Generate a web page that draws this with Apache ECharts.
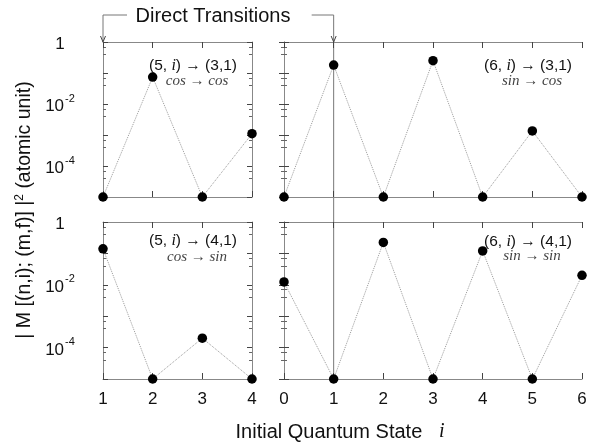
<!DOCTYPE html>
<html><head><meta charset="utf-8">
<script src="https://cdn.jsdelivr.net/npm/echarts@6/dist/echarts.min.js"></script>
<style>html,body{margin:0;padding:0;background:#fff}#c{width:603px;height:444px}</style>
</head><body><div id="c"></div>
<script>
// ---- data ----
const statesLeft = [1, 2, 3, 4];
const statesRight = [0, 1, 2, 3, 4, 5, 6];
const m5to31 = [1e-5, 0.074, 1e-5, 1.1e-3];
const m6to31 = [1e-5, 0.18, 1e-5, 0.25, 1e-5, 1.35e-3, 1e-5];
const m5to41 = [0.14, 1e-5, 2e-4, 1e-5];
const m6to41 = [0.0123, 1e-5, 0.224, 1e-5, 0.12, 1e-5, 0.02];
const yLabelExps = [0, -2, -4];
const panelTitles = ['(5, {i|i}) \u2192 (3,1)', '(6, {i|i}) \u2192 (3,1)', '(5, {i|i}) \u2192 (4,1)', '(6, {i|i}) \u2192 (4,1)'];
const panelSubs = ['cos \u2192 cos', 'sin \u2192 cos', 'cos \u2192 sin', 'sin \u2192 sin'];
const bracketLabel = 'Direct Transitions';
const xTitle = 'Initial Quantum State';
const yTitle = '| M [(n,i); (m,f)] |{s|2} (atomic unit)';

const FONT = '"Liberation Sans", Arial, sans-serif';
const SERIF = '"Liberation Serif", "Times New Roman", serif';
const chart = echarts.init(document.getElementById('c'));

const grids = [
  {left: 103, top: 42, width: 149, height: 155},
  {left: 284, top: 42, width: 298, height: 155},
  {left: 103, top: 222, width: 149, height: 157},
  {left: 284, top: 222, width: 298, height: 157}
];
const panels = [
  {xs: statesLeft, ys: m5to31, min: 1, max: 4, bottom: false, left: true},
  {xs: statesRight, ys: m6to31, min: 0, max: 6, bottom: false, left: false},
  {xs: statesLeft, ys: m5to41, min: 1, max: 4, bottom: true, left: true},
  {xs: statesRight, ys: m6to41, min: 0, max: 6, bottom: true, left: false}
];
const frameLine = {show: true, lineStyle: {color: '#888', width: 1}};
const tickStyle = {color: '#444', width: 1};

const xAxes = [], yAxes = [], series = [];
panels.forEach((p, i) => {
  ['bottom', 'top'].forEach(pos => {
    xAxes.push({
      gridIndex: i, type: 'value', min: p.min, max: p.max, interval: 1, position: pos,
      axisLine: frameLine,
      axisTick: {show: true, inside: true, length: 6, lineStyle: tickStyle},
      axisLabel: {show: p.bottom && pos === 'bottom', margin: 12, fontSize: 17, color: '#111', fontFamily: FONT},
      splitLine: {show: false}
    });
  });
  ['left', 'right'].forEach(pos => {
    yAxes.push({
      gridIndex: i, type: 'log', logBase: 10, min: 1e-5, max: 1, position: pos,
      axisLine: frameLine,
      axisTick: {show: true, inside: true, length: 5, lineStyle: tickStyle},
      minorTick: {show: true, splitNumber: 3, length: 3, lineStyle: {color: '#666'}},
      axisLabel: {
        show: p.left && pos === 'left', align: 'center', margin: 43, fontFamily: FONT,
        formatter: v => {
          const e = Math.round(Math.log10(v));
          if (!yLabelExps.includes(e)) return '';
          return e === 0 ? '{b|1}' : '{b|10}{s|' + e + '}';
        },
        rich: {
          b: {fontSize: 17, color: '#111', fontFamily: FONT, lineHeight: 22, verticalAlign: 'bottom'},
          s: {fontSize: 11, color: '#111', fontFamily: FONT, lineHeight: 22, verticalAlign: 'top', padding: [0, 0, 0, 1]}
        }
      },
      splitLine: {show: false}
    });
  });
  series.push({
    type: 'line', xAxisIndex: i * 2, yAxisIndex: i * 2,
    data: p.xs.map((x, k) => [x, p.ys[k]]),
    symbol: 'circle', symbolSize: 9.5, showSymbol: true, clip: false,
    itemStyle: {color: '#000'},
    lineStyle: {type: 'dotted', color: '#999', width: 1},
    z: 5, silent: true, animation: false
  });
});

chart.setOption({
  animation: false,
  grid: grids,
  xAxis: xAxes,
  yAxis: yAxes,
  series: series
});

// pixel positions derived from the axes
const xL1 = chart.convertToPixel({xAxisIndex: 0}, 1);
const xR1 = chart.convertToPixel({xAxisIndex: 2}, 1);
const yTop = chart.convertToPixel({yAxisIndex: 0}, 1);
const yBot = chart.convertToPixel({yAxisIndex: 4}, 1e-5);
const yBr = 15;
const gray = '#777';

const titleRich = {
  i: {fontFamily: SERIF, fontStyle: 'italic', fontSize: 16, fill: '#111'}
};
const ann = [
  {x: 193, y: 66, sy: 81},
  {x: 528, y: 66, sy: 81},
  {x: 193, y: 241, sy: 257},
  {x: 528, y: 242, sy: 256}
];
const graphics = [];
ann.forEach((a, i) => {
  graphics.push({type: 'text', x: a.x, y: a.y, style: {
    text: panelTitles[i], fontFamily: FONT, fontSize: 15.5, fill: '#111', align: 'center', verticalAlign: 'middle', rich: titleRich}});
  graphics.push({type: 'text', x: a.x + 4, y: a.sy, style: {
    text: panelSubs[i], fontFamily: SERIF, fontStyle: 'italic', fontSize: 15, fill: '#444', align: 'center', verticalAlign: 'middle'}});
});
// bracket
graphics.push({type: 'polyline', shape: {points: [[xL1 + 24, yBr], [xL1, yBr], [xL1, yTop]]}, style: {stroke: gray, lineWidth: 1, fill: null}});
graphics.push({type: 'polyline', shape: {points: [[xL1 - 2.5, yTop - 6], [xL1, yTop], [xL1 + 2.5, yTop - 6]]}, style: {stroke: '#444', lineWidth: 1, fill: null}});
graphics.push({type: 'polyline', shape: {points: [[xR1 - 22, yBr], [xR1, yBr], [xR1, yBot]]}, style: {stroke: gray, lineWidth: 1, fill: null}});
graphics.push({type: 'polyline', shape: {points: [[xR1 - 2.5, yTop - 6], [xR1, yTop], [xR1 + 2.5, yTop - 6]]}, style: {stroke: '#444', lineWidth: 1, fill: null}});
graphics.push({type: 'text', x: 213, y: 16, style: {
  text: bracketLabel, fontFamily: FONT, fontSize: 20, fill: '#111', align: 'center', verticalAlign: 'middle'}});
// axis titles
graphics.push({type: 'text', x: 340, y: 432, style: {
  text: xTitle + '   {i|i}', fontFamily: FONT, fontSize: 20, fill: '#111', align: 'center', verticalAlign: 'middle',
  rich: {i: {fontFamily: SERIF, fontStyle: 'italic', fontSize: 20, fill: '#111'}}}});
graphics.push({type: 'text', x: 25, y: 210, rotation: Math.PI / 2, style: {
  text: yTitle, fontFamily: FONT, fontSize: 19.5, fill: '#111', align: 'center', verticalAlign: 'middle',
  rich: {s: {fontSize: 12, fill: '#111', verticalAlign: 'top', lineHeight: 22, fontFamily: FONT}}}});

chart.setOption({graphic: graphics});
</script>
</body></html>
